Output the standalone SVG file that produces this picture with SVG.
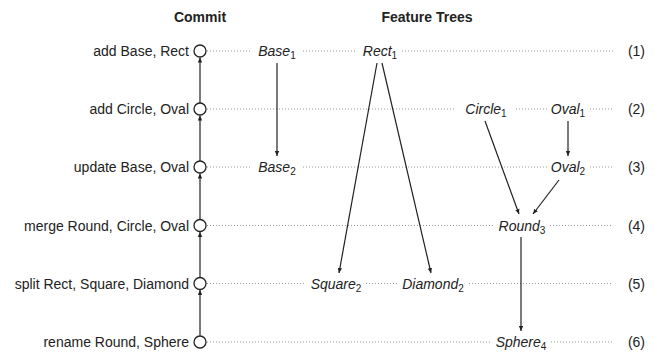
<svg xmlns="http://www.w3.org/2000/svg" width="661" height="354" viewBox="0 0 661 354">
<defs>
<marker id="ah" markerWidth="6" markerHeight="6" refX="5" refY="3" orient="auto" markerUnits="userSpaceOnUse">
<path d="M0,0.8 L5,3 L0,5.2 Z" fill="#222"/>
</marker>
<style>
text{font-family:"Liberation Sans",Arial,sans-serif;font-size:14px;fill:#222}
.h{font-weight:bold}
.f{font-style:italic}
.s{font-size:10px;font-style:normal}
.dot{stroke:#999;stroke-width:1;stroke-dasharray:1,2;fill:none}
.ln{stroke:#222;stroke-width:1.2;fill:none;marker-end:url(#ah)}
circle{fill:#fff;stroke:#222;stroke-width:1.3}
</style>
</defs>
<rect width="661" height="354" fill="#fff"/>
<text class="h" x="200" y="22" text-anchor="middle">Commit</text>
<text class="h" x="427" y="22" text-anchor="middle">Feature Trees</text>
<g id="dotted">
<path class="dot" d="M207,51H252M303,51H357M402,51H613"/>
<path class="dot" d="M207,109H455M516,109H547M590,109H613"/>
<path class="dot" d="M207,167H252M303,167H547M590,167H613"/>
<path class="dot" d="M207,225.5H494M550,225.5H613"/>
<path class="dot" d="M207,283.5H305M366,283.5H397M469,283.5H613"/>
<path class="dot" d="M207,342H491M551,342H613"/>
</g>
<g id="commits">
<g id="c1"><circle cx="200" cy="51" r="6"/><text x="189" y="56" text-anchor="end">add Base, Rect</text><text x="645" y="56" text-anchor="end">(1)</text></g>
<g id="c2"><circle cx="200" cy="109" r="6"/><text x="189" y="114" text-anchor="end">add Circle, Oval</text><text x="645" y="114" text-anchor="end">(2)</text></g>
<g id="c3"><circle cx="200" cy="167" r="6"/><text x="189" y="172" text-anchor="end">update Base, Oval</text><text x="645" y="172" text-anchor="end">(3)</text></g>
<g id="c4"><circle cx="200" cy="225.5" r="6"/><text x="189" y="230.5" text-anchor="end">merge Round, Circle, Oval</text><text x="645" y="230.5" text-anchor="end">(4)</text></g>
<g id="c5"><circle cx="200" cy="283.5" r="6"/><text x="189" y="288.5" text-anchor="end">split Rect, Square, Diamond</text><text x="645" y="288.5" text-anchor="end">(5)</text></g>
<g id="c6"><circle cx="200" cy="342" r="6"/><text x="189" y="347" text-anchor="end">rename Round, Sphere</text><text x="645" y="347" text-anchor="end">(6)</text></g>
</g>
<g id="features">
<g id="base1"><text class="f" x="277" y="56" text-anchor="middle">Base<tspan class="s" dy="3">1</tspan></text></g>
<g id="rect1"><text class="f" x="380" y="56" text-anchor="middle">Rect<tspan class="s" dy="3">1</tspan></text></g>
<g id="circle1"><text class="f" x="486" y="114" text-anchor="middle">Circle<tspan class="s" dy="3">1</tspan></text></g>
<g id="oval1"><text class="f" x="568" y="114" text-anchor="middle">Oval<tspan class="s" dy="3">1</tspan></text></g>
<g id="base2"><text class="f" x="277" y="172" text-anchor="middle">Base<tspan class="s" dy="3">2</tspan></text></g>
<g id="oval2"><text class="f" x="568" y="172" text-anchor="middle">Oval<tspan class="s" dy="3">2</tspan></text></g>
<g id="round3"><text class="f" x="522" y="230.5" text-anchor="middle">Round<tspan class="s" dy="3">3</tspan></text></g>
<g id="square2"><text class="f" x="336" y="288.5" text-anchor="middle">Square<tspan class="s" dy="3">2</tspan></text></g>
<g id="diamond2"><text class="f" x="433" y="288.5" text-anchor="middle">Diamond<tspan class="s" dy="3">2</tspan></text></g>
<g id="sphere4"><text class="f" x="521" y="347" text-anchor="middle">Sphere<tspan class="s" dy="3">4</tspan></text></g>
</g>
<g id="connectors">
<path class="ln" d="M200,335.5V290"/>
<path class="ln" d="M200,277.5V232"/>
<path class="ln" d="M200,219.5V173.5"/>
<path class="ln" d="M200,161V115.5"/>
<path class="ln" d="M200,103V57.5"/>
<path class="ln" d="M277,63V156"/>
<path class="ln" d="M377,63L339,273"/>
<path class="ln" d="M382,63L431,273"/>
<path class="ln" d="M568,121V156"/>
<path class="ln" d="M485,121L519,214"/>
<path class="ln" d="M559,180L533,214"/>
<path class="ln" d="M521,237V331"/>
</g>
</svg>
